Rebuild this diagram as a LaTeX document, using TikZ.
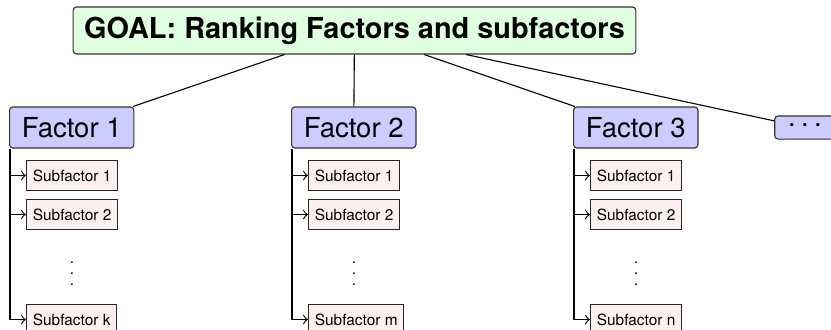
\documentclass[tikz,border=0pt]{standalone}
\usepackage{fontspec}
\setmainfont{TeX Gyre Heros}
\usetikzlibrary{positioning,calc}

\tikzset{
  goalbox/.style={draw=black!80, fill=green!12, rounded corners=1.2pt,
    font=\fontsize{10.5}{12}\selectfont\bfseries, minimum height=17.1pt, inner xsep=4pt},
  factorbox/.style={draw=black!80, fill=blue!20, rounded corners=1.2pt,
    font=\fontsize{10}{12}\selectfont, minimum height=14.9pt, inner xsep=4.5pt},
  morebox/.style={factorbox, minimum height=8.4pt, minimum width=22pt, inner sep=0pt},
  subbox/.style={draw=black!85, fill=red!6, font=\fontsize{5.6}{6.5}\selectfont,
    minimum height=8.4pt, inner xsep=2.3pt},
  subdots/.style={font=\fontsize{5.6}{6.5}\selectfont, inner sep=0pt, anchor=south},
}
\newcommand{\moredots}{.\kern1.95pt.\kern1.95pt.}

\begin{document}
\begin{tikzpicture}[x=0.3636pt,y=-0.3636pt]
\useasboundingbox (0,0) rectangle (831,329);
\node[goalbox] (goal) at (354.5,30.5) {GOAL: Ranking Factors and subfactors};
\node[morebox] (more) at (805,127.5) {\raisebox{1.6pt}{\moredots}};
% one column per factor, with its subfactors hanging below
\foreach \i/\x/\last in {1/9/k,2/291/m,3/573/n}{
  \node[factorbox,anchor=west] (f\i) at (\x,127.5) {Factor \i};
  \node[subbox,anchor=west] (sub\i-1) at (\x+17,175.5) {Subfactor 1};
  \node[subbox,anchor=west] (sub\i-2) at (\x+17,214.5) {Subfactor 2};
  \node[subbox,anchor=west] (sub\i-last) at (\x+17,319.5) {Subfactor \last};
  \node[subdots] (dots\i) at ($(sub\i-2.center)+(0,71.5)$) {\vdots};
  \draw (goal) -- (f\i);
  \foreach \s in {1,2,last}
    \draw[->] ($(f\i.south west)+(1,0)$) |- (sub\i-\s.west);
}
\draw (goal) -- (more);
\end{tikzpicture}
\end{document}
